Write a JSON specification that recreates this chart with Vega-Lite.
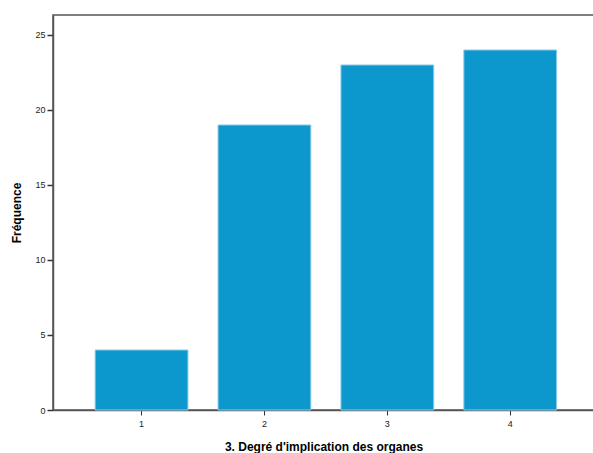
{
  "$schema": "https://vega.github.io/schema/vega-lite/v6.json",
  "width": 541,
  "height": 395,
  "autosize": {"type": "none"},
  "padding": {"left": 53, "top": 15, "right": 0, "bottom": 43},
  "background": "white",
  "config": {
    "view": {"stroke": "#555555", "strokeWidth": 1.5},
    "font": "Liberation Sans"
  },
  "data": {
    "values": [
      {"degre": "1", "frequence": 4},
      {"degre": "2", "frequence": 19},
      {"degre": "3", "frequence": 23},
      {"degre": "4", "frequence": 24}
    ]
  },
  "mark": {"type": "bar", "fill": "#0c98cd", "stroke": "#8ccbeb", "strokeWidth": 1},
  "encoding": {
    "x": {
      "field": "degre",
      "type": "ordinal",
      "scale": {"paddingInner": 0.245, "paddingOuter": 0.3235, "align": 0.53},
      "axis": {
        "title": "3. Degré d'implication des organes",
        "titleFont": "Liberation Sans",
        "titleFontSize": 12,
        "titleFontWeight": "bold",
        "titleColor": "#000000",
        "titlePadding": 13,
        "labelAngle": 0,
        "labelFontSize": 9,
        "labelColor": "#222222",
        "labelPadding": 4,
        "tickSize": 5,
        "tickColor": "#333333",
        "domainColor": "#555555",
        "domainWidth": 1.5
      }
    },
    "y": {
      "field": "frequence",
      "type": "quantitative",
      "scale": {"domain": [0, 26.333], "nice": false},
      "axis": {
        "title": "Fréquence",
        "titleFont": "Liberation Sans",
        "titleFontSize": 12,
        "titleFontWeight": "bold",
        "titleColor": "#000000",
        "titlePadding": 11,
        "values": [0, 5, 10, 15, 20, 25],
        "labelFontSize": 9,
        "labelColor": "#222222",
        "labelPadding": 2,
        "tickSize": 6,
        "tickColor": "#333333",
        "tickWidth": 1.5,
        "domainColor": "#555555",
        "domainWidth": 1.5,
        "grid": false
      }
    }
  }
}
